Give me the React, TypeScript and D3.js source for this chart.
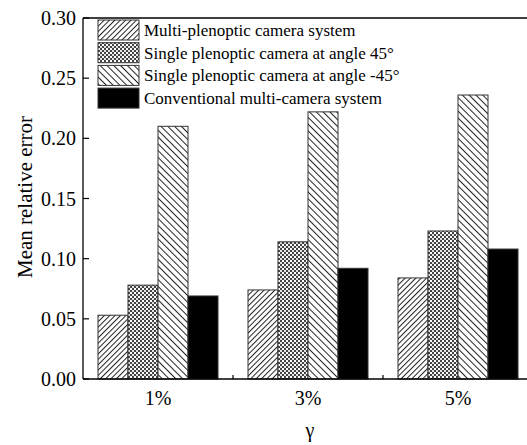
import React from "react";
import * as d3 from "d3";

const categories = ["1%", "3%", "5%"];
const seriesNames = [
  "Multi-plenoptic camera system",
  "Single plenoptic camera at angle 45°",
  "Single plenoptic camera at angle -45°",
  "Conventional multi-camera system",
];
const multiPlenoptic = [0.053, 0.074, 0.084];
const single45 = [0.078, 0.114, 0.123];
const singleMinus45 = [0.21, 0.222, 0.236];
const conventional = [0.069, 0.092, 0.108];
const yTicks = [0, 0.05, 0.1, 0.15, 0.2, 0.25, 0.3];

const seriesValues = [multiPlenoptic, single45, singleMinus45, conventional];
const fills = ["url(#pFwd)", "url(#pCross)", "url(#pBack)", "#000"];

const W = 527;
const H = 445;
const left = 83;
const right = 533;
const top = 18;
const bottom = 379;
const font = '"Liberation Serif", "Times New Roman", Times, "DejaVu Serif", serif';

export default function App() {
  const x = d3
    .scaleBand<string>()
    .domain(categories)
    .range([left, right])
    .paddingInner(0.2)
    .paddingOuter(0.1);
  const inner = d3
    .scaleBand<number>()
    .domain(d3.range(seriesNames.length))
    .range([0, x.bandwidth()]);
  const y = d3.scaleLinear().domain([0, 0.3]).range([bottom, top]);
  const step = x.step();

  return (
    <svg
      width={W}
      height={H}
      style={{ position: "absolute", left: 0, top: 0, background: "#fff", fontFamily: font }}
    >
      <defs>
        <pattern id="pFwd" patternUnits="userSpaceOnUse" width={3.8} height={3.8} patternTransform="rotate(45)">
          <rect width={3.8} height={3.8} fill="#fff" />
          <line x1={0.5} y1={0} x2={0.5} y2={3.8} stroke="#222" strokeWidth={1} />
        </pattern>
        <pattern id="pBack" patternUnits="userSpaceOnUse" width={4.8} height={4.8} patternTransform="rotate(-45)">
          <rect width={4.8} height={4.8} fill="#fff" />
          <line x1={0.5} y1={0} x2={0.5} y2={4.8} stroke="#222" strokeWidth={1} />
        </pattern>
        <pattern id="pCross" patternUnits="userSpaceOnUse" width={4} height={4}>
          <rect width={4} height={4} fill="#fff" />
          <rect x={0} y={0} width={2} height={2} fill="#444" />
          <rect x={2} y={2} width={2} height={2} fill="#444" />
          <circle cx={1} cy={3} r={0.6} fill="#888" />
        </pattern>
      </defs>

      {categories.map((c, ci) => (
        <g key={c}>
          {seriesValues.map((vals, si) => (
            <rect
              key={si}
              x={(x(c) as number) + (inner(si) as number)}
              y={y(vals[ci])}
              width={inner.bandwidth()}
              height={bottom - y(vals[ci])}
              fill={fills[si]}
              stroke="#333"
              strokeWidth={1}
            />
          ))}
        </g>
      ))}

      <line x1={left} y1={top} x2={W} y2={top} stroke="#000" strokeWidth={1.3} />
      <line x1={left} y1={top} x2={left} y2={bottom} stroke="#000" strokeWidth={1.3} />
      <line x1={left} y1={bottom} x2={W} y2={bottom} stroke="#000" strokeWidth={1.3} />

      {yTicks.map((t) => (
        <g key={t}>
          <line x1={left} x2={left + 6} y1={y(t)} y2={y(t)} stroke="#000" strokeWidth={1.2} />
          <text x={76} y={y(t)} dy="0.35em" textAnchor="end" fontSize={20} fill="#000">
            {t.toFixed(2)}
          </text>
        </g>
      ))}

      {categories.slice(1).map((c) => (
        <line
          key={c}
          x1={(x(c) as number) - (step - x.bandwidth()) / 2}
          x2={(x(c) as number) - (step - x.bandwidth()) / 2}
          y1={bottom}
          y2={bottom - 4}
          stroke="#000"
          strokeWidth={1.2}
        />
      ))}

      {categories.map((c) => (
        <text
          key={c}
          x={(x(c) as number) + x.bandwidth() / 2}
          y={405}
          textAnchor="middle"
          fontSize={20}
          fill="#000"
        >
          {c}
        </text>
      ))}

      <text x={310} y={437} textAnchor="middle" fontSize={20} fill="#000">
        γ
      </text>

      <text
        transform={`translate(32, 197) rotate(-90)`}
        textAnchor="middle"
        fontSize={21}
        fill="#000"
      >
        Mean relative error
      </text>

      {seriesNames.map((n, i) => {
        const yy = 20 + i * 22.7;
        return (
          <g key={n}>
            <rect x={98} y={yy} width={41} height={20} fill={fills[i]} stroke="#333" strokeWidth={1} />
            <text x={144} y={yy + 16} fontSize={17} fill="#000">
              {n}
            </text>
          </g>
        );
      })}
    </svg>
  );
}
